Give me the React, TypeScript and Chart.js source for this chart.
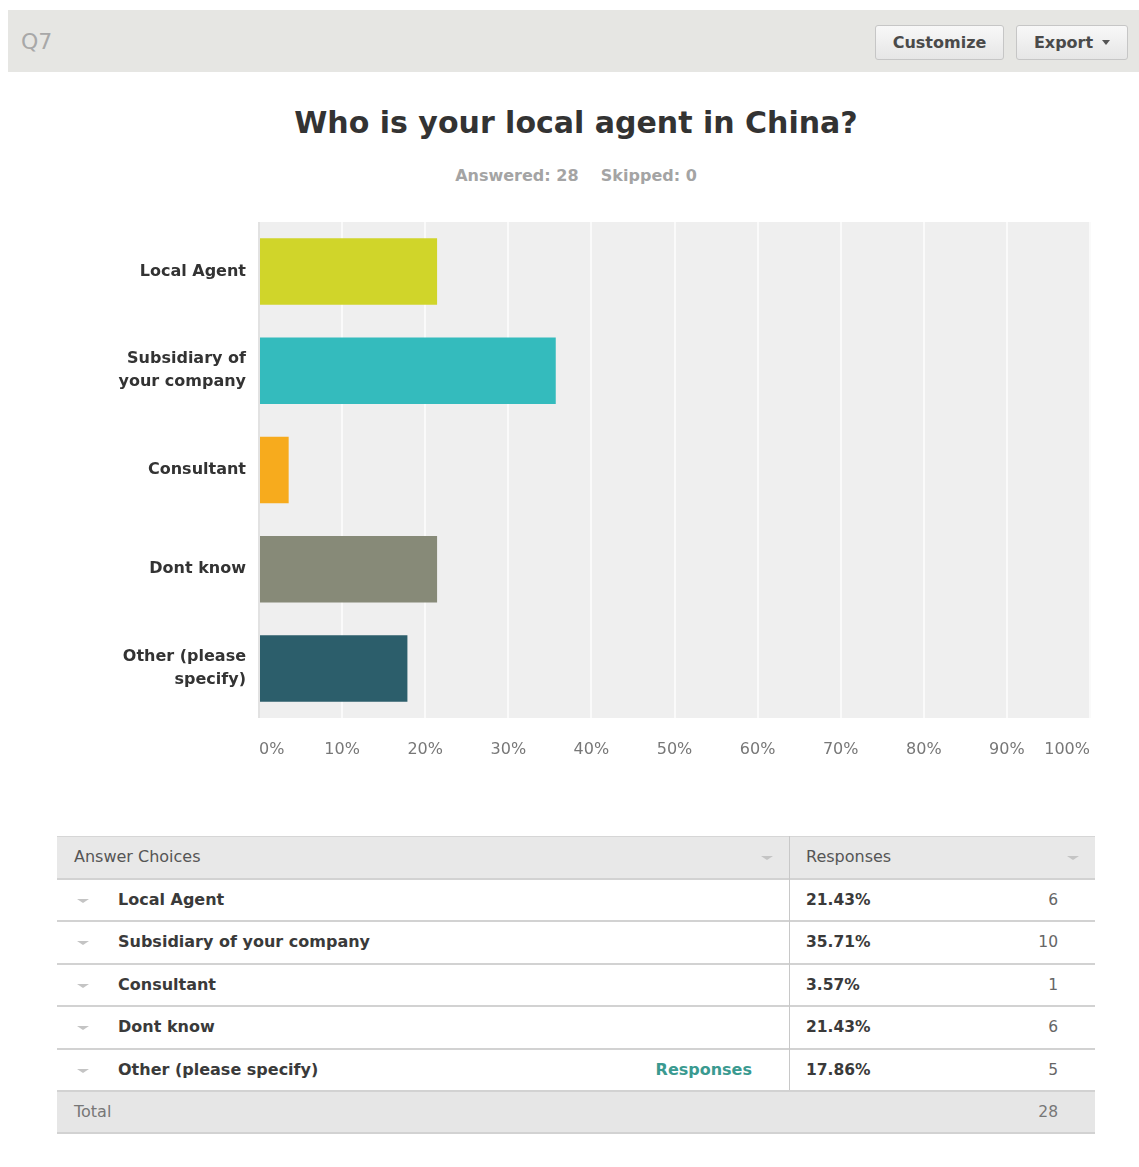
import React, { useEffect, useRef } from 'react';
import { Chart, registerables } from 'chart.js';

Chart.register(...registerables);

// ---- data ----
const questionId = 'Q7';
const chartTitle = 'Who is your local agent in China?';
const answered = 28;
const skipped = 0;
const categories: (string | string[])[] = [
  'Local Agent',
  ['Subsidiary of', 'your company'],
  'Consultant',
  'Dont know',
  ['Other (please', 'specify)'],
];
const tableLabels = [
  'Local Agent',
  'Subsidiary of your company',
  'Consultant',
  'Dont know',
  'Other (please specify)',
];
const percentages = [21.43, 35.71, 3.57, 21.43, 17.86];
const counts = [6, 10, 1, 6, 5];
const barColors = ['#d0d52a', '#34bbbd', '#f7ab1d', '#878a78', '#2c5e6b'];
const xTickValues = [0, 10, 20, 30, 40, 50, 60, 70, 80, 90, 100];
const total = 28;

const FONT = "'DejaVu Sans', Verdana, sans-serif";

const plotBg = {
  id: 'plotBg',
  beforeDraw(chart: any) {
    const { ctx, chartArea } = chart;
    if (!chartArea) return;
    ctx.save();
    ctx.fillStyle = '#efefef';
    ctx.fillRect(chartArea.left, chartArea.top, chartArea.right - chartArea.left, chartArea.bottom - chartArea.top);
    ctx.restore();
  },
};

function BarChart() {
  const ref = useRef<HTMLCanvasElement | null>(null);
  useEffect(() => {
    if (!ref.current) return;
    const chart = new Chart(ref.current, {
      type: 'bar',
      data: {
        labels: categories as any,
        datasets: [
          {
            data: percentages,
            backgroundColor: barColors,
            borderWidth: 0,
            barPercentage: 0.67,
            categoryPercentage: 1,
          },
        ],
      },
      plugins: [plotBg],
      options: {
        indexAxis: 'y',
        responsive: false,
        animation: false,
        devicePixelRatio: 1,
        layout: { padding: { top: 10, right: 10, left: 0, bottom: 0 } },
        plugins: {
          legend: { display: false },
          tooltip: { enabled: false },
          title: { display: false },
        },
        scales: {
          x: {
            type: 'linear',
            min: 0,
            max: 100,
            afterBuildTicks: (scale: any) => {
              scale.ticks = xTickValues.map((v) => ({ value: v }));
            },
            afterFit: (scale: any) => {
              scale.height = 54;
              scale.paddingLeft = 0;
              scale.paddingRight = 0;
            },
            border: { display: false },
            grid: {
              drawTicks: false,
              lineWidth: 2,
              color: (ctx: any) => (ctx.index === 0 ? '#e2e2e2' : '#fafafa'),
            },
            ticks: {
              padding: 22,
              align: 'inner',
              color: '#777',
              font: { family: FONT, size: 16 },
              callback: (v: any) => v + '%',
            },
          },
          y: {
            type: 'category',
            afterFit: (scale: any) => {
              scale.width = 159;
              scale.paddingTop = 0;
              scale.paddingBottom = 0;
            },
            border: { display: false },
            grid: { display: false, drawTicks: false },
            ticks: {
              padding: 13,
              color: '#333',
              font: { family: FONT, size: 16, weight: 'bold', lineHeight: 1.44 },
            },
          },
        },
      } as any,
    });
    return () => chart.destroy();
  }, []);
  return (
    <canvas
      ref={ref}
      width={1000}
      height={560}
      style={{ position: 'absolute', left: 100, top: 212, width: 1000, height: 560 }}
    />
  );
}

function Caret({ left, top }: { left: number; top: number }) {
  return (
    <div
      style={{
        position: 'absolute',
        left,
        top,
        width: 0,
        height: 0,
        borderLeft: '6px solid transparent',
        borderRight: '6px solid transparent',
        borderTop: '4px solid #c4c4c4',
      }}
    />
  );
}

const btnStyle: React.CSSProperties = {
  position: 'absolute',
  top: 25,
  height: 35,
  boxSizing: 'border-box',
  border: '1px solid #c6c6c6',
  borderRadius: 3,
  background: 'linear-gradient(#f8f8f8, #e6e6e6)',
  display: 'flex',
  alignItems: 'center',
  justifyContent: 'center',
  fontFamily: FONT,
  fontWeight: 'bold',
  fontSize: 16,
  color: '#4a4a4a',
};

export default function App() {
  const rowH = 42.5;
  const tableTop = 836;
  const tableLeft = 57;
  const tableRight = 1095;
  const divX = 789;
  const rows = tableLabels.map((label, i) => ({ label, pct: percentages[i], n: counts[i] }));
  return (
    <div style={{ position: 'absolute', left: 0, top: 0, width: 1139, height: 1167, background: '#fff', fontFamily: FONT }}>
      {/* header bar */}
      <div style={{ position: 'absolute', left: 8, top: 10, width: 1131, height: 62, background: '#e6e6e3' }} />
      <div style={{ position: 'absolute', left: 21, top: 31, fontSize: 22, lineHeight: '22px', color: '#a8a8a8' }}>{questionId}</div>
      <div style={{ ...btnStyle, left: 875, width: 129 }}>Customize</div>
      <div style={{ ...btnStyle, left: 1016, width: 112 }}>
        Export
        <span style={{ display: 'inline-block', marginLeft: 9, width: 0, height: 0, borderLeft: '4px solid transparent', borderRight: '4px solid transparent', borderTop: '5px solid #555' }} />
      </div>

      {/* title */}
      <div style={{ position: 'absolute', left: 0, top: 108, width: 1152, textAlign: 'center', fontSize: 30, lineHeight: '30px', fontWeight: 'bold', color: '#333' }}>
        {chartTitle}
      </div>
      <div style={{ position: 'absolute', left: 0, top: 168, width: 1152, textAlign: 'center', fontSize: 16, lineHeight: '16px', fontWeight: 'bold', color: '#a4a4a4', whiteSpace: 'pre' }}>
        {`Answered: ${answered}    Skipped: ${skipped}`}
      </div>

      <BarChart />

      {/* table */}
      <div style={{ position: 'absolute', left: tableLeft, top: tableTop, width: tableRight - tableLeft, height: rowH, background: '#e8e8e8', borderTop: '1px solid #d6d6d6', boxSizing: 'border-box' }} />
      <div style={{ position: 'absolute', left: 74, top: tableTop, height: rowH, lineHeight: rowH + 'px', fontSize: 16, color: '#555' }}>Answer Choices</div>
      <div style={{ position: 'absolute', left: 806, top: tableTop, height: rowH, lineHeight: rowH + 'px', fontSize: 16, color: '#555' }}>Responses</div>
      <Caret left={761} top={tableTop + 20} />
      <Caret left={1067} top={tableTop + 20} />
      {rows.map((r, i) => {
        const top = tableTop + rowH * (i + 1);
        return (
          <React.Fragment key={i}>
            <div style={{ position: 'absolute', left: tableLeft, top: top - 1, width: tableRight - tableLeft, height: 2, background: '#d2d2d2' }} />
            <Caret left={77} top={top + 20} />
            <div style={{ position: 'absolute', left: 118, top, height: rowH, lineHeight: rowH + 'px', fontSize: 16, fontWeight: 'bold', color: '#3a3a3a' }}>{r.label}</div>
            {i === rows.length - 1 && (
              <div style={{ position: 'absolute', left: 600, width: 152, textAlign: 'right', top, height: rowH, lineHeight: rowH + 'px', fontSize: 16, fontWeight: 'bold', color: '#3a9a90' }}>Responses</div>
            )}
            <div style={{ position: 'absolute', left: 806, top, height: rowH, lineHeight: rowH + 'px', fontSize: 15.5, fontWeight: 'bold', color: '#3a3a3a' }}>{r.pct.toFixed(2)}%</div>
            <div style={{ position: 'absolute', left: 958, width: 100, textAlign: 'right', top, height: rowH, lineHeight: rowH + 'px', fontSize: 15.5, color: '#666' }}>{r.n}</div>
          </React.Fragment>
        );
      })}
      {/* column divider */}
      <div style={{ position: 'absolute', left: divX, top: tableTop, width: 1, height: rowH * 6, background: '#c8c8c8' }} />
      {/* total row */}
      <div style={{ position: 'absolute', left: tableLeft, top: tableTop + rowH * 6 - 1, width: tableRight - tableLeft, height: rowH + 1, background: '#e6e6e6', borderTop: '2px solid #d2d2d2', borderBottom: '2px solid #d2d2d2', boxSizing: 'border-box' }} />
      <div style={{ position: 'absolute', left: 74, top: tableTop + rowH * 6, height: rowH, lineHeight: rowH + 'px', fontSize: 16, color: '#777' }}>Total</div>
      <div style={{ position: 'absolute', left: 958, width: 100, textAlign: 'right', top: tableTop + rowH * 6, height: rowH, lineHeight: rowH + 'px', fontSize: 15.5, color: '#777' }}>{total}</div>
    </div>
  );
}
